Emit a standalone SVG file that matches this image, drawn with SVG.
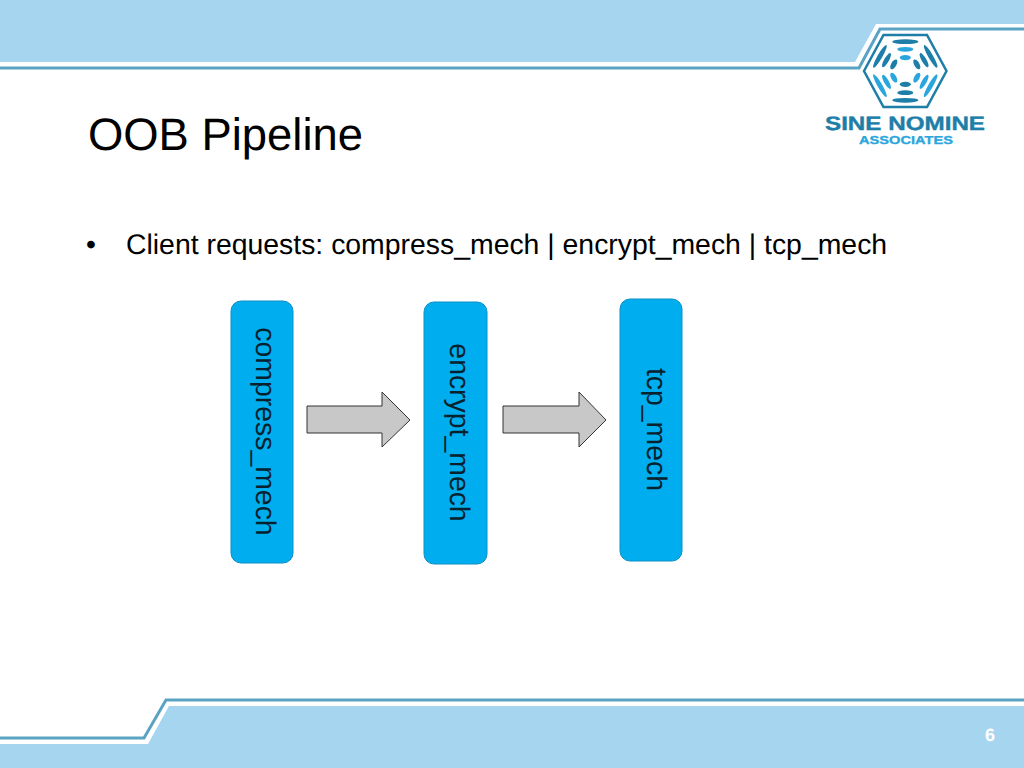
<svg xmlns="http://www.w3.org/2000/svg" width="1024" height="768" viewBox="0 0 1024 768">
<style>
.band{fill:#a6d5f0}
.rule{fill:none;stroke:#5ba3c4;stroke-width:3}
text{font-family:"Liberation Sans",Arial,sans-serif;text-rendering:geometricPrecision}
.title{font-size:45.4px;fill:#000}
.body{font-size:28.4px;fill:#000}
.box{fill:#00aeef;stroke:#0d8fc4;stroke-width:1}
.lbl{font-size:28.4px;fill:#07222e;text-anchor:middle}
.arrow{fill:#c8c8c8;stroke:#333;stroke-width:1}
.d{fill:#1d7ea8}
.b{fill:#2ba6dc}
</style>
<defs>
<g id="spoke-d"><ellipse class="d" cx="0" cy="-29.3" rx="13" ry="2.4"/><ellipse class="d" cx="0" cy="-21.7" rx="8" ry="2.4"/><ellipse class="d" cx="0" cy="-13.3" rx="5.5" ry="2.6"/></g>
<g id="spoke-b"><ellipse class="b" cx="0" cy="-29.3" rx="13" ry="2.4"/><ellipse class="b" cx="0" cy="-21.7" rx="8" ry="2.4"/><ellipse class="b" cx="0" cy="-13.3" rx="5.5" ry="2.6"/></g>
</defs>
<g id="frame">
<polygon class="band" points="0,0 1024,0 1024,24 876,24 855,62 0,62"/>
<polyline class="rule" points="0,68 859,68 880,29 1024,29"/>
<polygon class="band" points="0,744 148,744 169,706 1024,706 1024,768 0,768"/>
<polyline class="rule" points="0,738 144,738 166,700 1024,700"/>
<text x="990" y="741" font-size="18" font-weight="bold" fill="#fff" text-anchor="middle">6</text>
</g>
<g id="logo">
<polygon points="864,71 883.500,35 927,35 946.500,71 927,107 883.500,107" fill="#fff" stroke="#1d7ea8" stroke-width="2.500"/>
<g transform="translate(905.300,71)">
<g><ellipse class="d" cx="0" cy="-29.300" rx="13" ry="2.400"/><ellipse class="b" cx="0" cy="-21.700" rx="8" ry="2.400"/><ellipse class="b" cx="0" cy="-13.300" rx="5.500" ry="2.600"/></g>
<use href="#spoke-d" transform="rotate(60)"/>
<use href="#spoke-b" transform="rotate(120)"/>
<use href="#spoke-d" transform="rotate(180)"/>
<use href="#spoke-b" transform="rotate(240)"/>
<use href="#spoke-d" transform="rotate(300)"/>
</g>
<text x="825" y="129.500" font-size="19.500" font-weight="bold" fill="#1d7ea8" stroke="#1d7ea8" stroke-width="0.400" textLength="160" lengthAdjust="spacingAndGlyphs">SINE NOMINE</text>
<text x="859" y="144" font-size="11.500" font-weight="bold" fill="#2ba6dc" stroke="#2ba6dc" stroke-width="0.300" textLength="94" lengthAdjust="spacingAndGlyphs">ASSOCIATES</text>
</g>
<g id="heading">
<text class="title" x="88" y="150">OOB Pipeline</text>
<text class="body" x="86" y="254">•</text>
<text class="body" x="126" y="254">Client requests: compress_mech | encrypt_mech | tcp_mech</text>
</g>
<g id="compress_mech">
<rect class="box" x="231" y="301" width="62" height="262" rx="10"/>
<text class="lbl" transform="translate(256,431.500) rotate(90)">compress_mech</text>
</g>
<g id="encrypt_mech">
<rect class="box" x="424" y="302" width="63" height="262" rx="10"/>
<text class="lbl" transform="translate(450,432.500) rotate(90)">encrypt_mech</text>
</g>
<g id="tcp_mech">
<rect class="box" x="620" y="299" width="62" height="262" rx="10"/>
<text class="lbl" transform="translate(647,429.500) rotate(90)">tcp_mech</text>
</g>
<g id="connectors">
<polygon class="arrow" points="307,406 382,406 382,392 410,420 382,447 382,433 307,433"/>
<polygon class="arrow" points="503,406 579,406 579,392 606,420 579,447 579,433 503,433"/>
</g>
</svg>
